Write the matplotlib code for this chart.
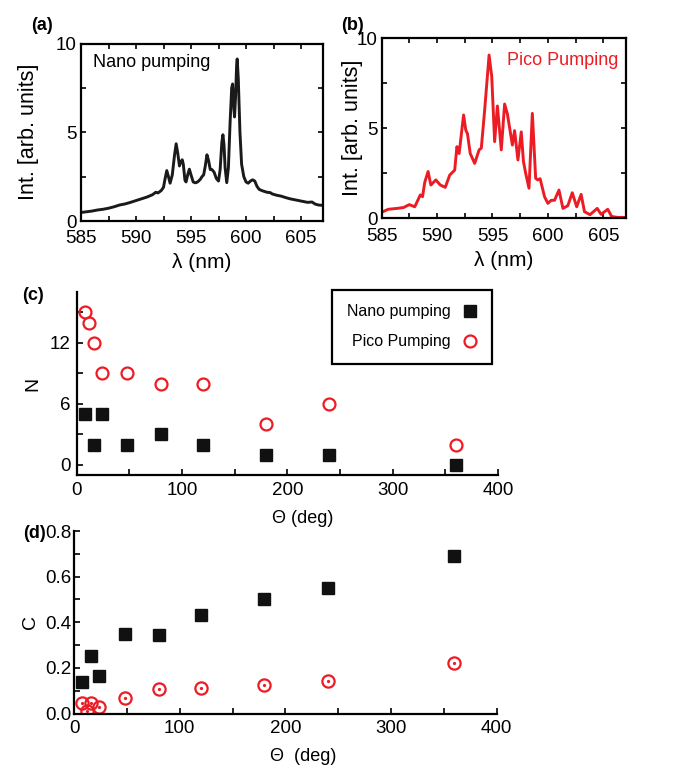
import matplotlib
matplotlib.use("Agg")
import matplotlib.pyplot as plt
from matplotlib import font_manager
from matplotlib.ticker import MultipleLocator, FormatStrFormatter

# ---------------- data ----------------
# (a) emission spectrum under nanosecond pumping
nano_wl = [585.0, 585.5, 586.0, 586.5, 587.0, 587.5, 588.0, 588.5, 589.0, 589.5,
           590.0, 590.5, 591.0, 591.5, 591.8, 592.0, 592.3, 592.5, 592.65, 592.8,
           592.95, 593.1, 593.3, 593.5, 593.65, 593.8, 593.95, 594.05, 594.2, 594.3,
           594.45, 594.55, 594.7, 594.85, 595.0, 595.2, 595.4, 595.6, 595.85, 596.0,
           596.15, 596.3, 596.45, 596.6, 596.75, 596.9, 597.1, 597.3, 597.5, 597.65,
           597.8, 597.9, 598.0, 598.1, 598.25, 598.4, 598.55, 598.7, 598.78, 598.9,
           598.96, 599.05, 599.15, 599.2, 599.3, 599.45, 599.6, 599.8, 600.0, 600.2,
           600.4, 600.6, 600.8, 601.0, 601.2, 601.5, 601.9, 602.2, 602.4, 602.8,
           603.2, 603.6, 604.0, 604.4, 604.8, 605.2, 605.6, 606.0, 606.3, 606.6, 607.0]
nano_int = [0.48, 0.52, 0.56, 0.62, 0.66, 0.72, 0.80, 0.90, 0.96, 1.05,
            1.15, 1.25, 1.35, 1.48, 1.62, 1.58, 1.72, 1.90, 2.40, 2.84,
            2.50, 2.13, 2.60, 3.70, 4.35, 3.80, 3.10, 3.30, 3.45, 3.20,
            2.30, 2.20, 2.60, 2.92, 2.60, 2.20, 2.15, 2.20, 2.35, 2.50,
            2.60, 3.10, 3.73, 3.40, 2.90, 2.90, 2.75, 2.40, 2.25, 2.90,
            4.40, 4.86, 4.30, 3.00, 2.16, 3.00, 5.50, 7.50, 7.72, 6.30,
            5.86, 7.00, 8.80, 9.13, 8.00, 5.00, 3.20, 2.50, 2.20, 2.13,
            2.25, 2.32, 2.25, 1.95, 1.78, 1.70, 1.62, 1.60, 1.52, 1.45,
            1.40, 1.32, 1.25, 1.20, 1.15, 1.10, 1.05, 1.07, 0.95, 0.90, 0.88]

# (b) emission spectrum under picosecond pumping
pico_wl = [585.0, 585.6, 586.4, 587.0, 587.5, 588.0, 588.5, 588.7, 588.9, 589.2,
           589.45, 589.9, 590.3, 590.75, 591.15, 591.6, 591.8, 592.0, 592.4, 592.6,
           592.75, 593.0, 593.4, 593.8, 594.0, 594.3, 594.7, 594.94, 595.2, 595.45,
           595.8, 596.1, 596.35, 596.8, 597.0, 597.3, 597.6, 597.8, 598.0, 598.3,
           598.6, 598.9, 599.1, 599.3, 599.7, 600.0, 600.3, 600.6, 601.0, 601.36,
           601.8, 602.2, 602.6, 603.0, 603.3, 603.8, 604.45, 604.8, 605.4, 605.75,
           606.3, 607.0]
pico_int = [0.33, 0.50, 0.55, 0.60, 0.76, 0.64, 1.30, 1.20, 2.00, 2.60,
            1.85, 2.13, 1.85, 1.72, 2.40, 2.68, 3.98, 3.60, 5.74, 4.90,
            4.70, 3.60, 3.05, 3.80, 3.90, 6.00, 9.07, 7.87, 4.26, 6.24,
            3.80, 6.35, 5.80, 4.07, 4.87, 3.24, 4.80, 3.15, 2.50, 1.67,
            5.83, 2.22, 2.13, 2.20, 1.20, 0.83, 1.00, 1.00, 1.57, 0.55,
            0.70, 1.42, 0.64, 1.33, 0.37, 0.20, 0.55, 0.22, 0.50, 0.10,
            0.05, 0.05]

# (c) number of lasing modes N and (d) correlation C versus angle
theta_nano = [8, 16, 24, 48, 80, 120, 180, 240, 360]
n_nano = [5, 2, 5, 2, 3, 2, 1, 1, 0]
c_nano = [0.137, 0.254, 0.165, 0.348, 0.345, 0.433, 0.503, 0.550, 0.692]

theta_pico = [8, 12, 16, 24, 48, 80, 120, 180, 240, 360]
n_pico = [15, 14, 12, 9, 9, 8, 8, 4, 6, 2]
c_pico = [0.045, 0.012, 0.045, 0.027, 0.070, 0.108, 0.113, 0.125, 0.143, 0.223]

# ---------------- style ----------------
installed = {f.name for f in font_manager.fontManager.ttflist}
BASE = "Liberation Sans" if "Liberation Sans" in installed else "DejaVu Sans"
HAS_NARROW = "Liberation Sans Narrow" in installed
NARROW = "Liberation Sans Narrow" if HAS_NARROW else BASE
plt.rcParams["font.family"] = [BASE, "DejaVu Sans"]

RED = "#ec1c24"
W, H = 674, 769
fig = plt.figure(figsize=(W / 100, H / 100), dpi=100)


def box(l, t, r, b):
    return [l / W, 1 - b / H, (r - l) / W, (b - t) / H]


def style_spectrum(ax, xpad, ylabelpad):
    ax.set_xlim(585, 607)
    ax.set_ylim(0, 10)
    ax.xaxis.set_major_locator(MultipleLocator(5))
    ax.xaxis.set_minor_locator(MultipleLocator(2.5))
    ax.yaxis.set_major_locator(MultipleLocator(5))
    ax.yaxis.set_minor_locator(MultipleLocator(2.5))
    ax.tick_params(which="both", direction="in", top=True, right=True,
                   length=3.5, width=1.2, labelsize=13.5)
    ax.tick_params(axis="x", pad=xpad)
    ax.tick_params(axis="y", pad=3)
    for s in ax.spines.values():
        s.set_linewidth(1.6)
    ax.set_xlabel("λ (nm)", fontsize=15, labelpad=4)
    ax.set_ylabel("Int. [arb. units]", fontsize=15.5, labelpad=ylabelpad)


# (a)
ax_a = fig.add_axes(box(81, 43.5, 323, 221))
ax_a.plot(nano_wl, nano_int, color="#1a1a1a", lw=2.1, solid_joinstyle="round")
style_spectrum(ax_a, 6.5, 12)
ax_a.text(0.05, 0.895, "Nano pumping", transform=ax_a.transAxes, fontsize=13,
          ha="left", va="center")

# (b)
ax_b = fig.add_axes(box(381.5, 38.3, 625.5, 218.3))
ax_b.plot(pico_wl, pico_int, color=RED, lw=2.1, solid_joinstyle="round")
style_spectrum(ax_b, 7, -4.5)
ax_b.text(0.97, 0.875, "Pico Pumping", transform=ax_b.transAxes, fontsize=13,
          ha="right", va="center", color=RED)


def style_scatter(ax, ypad, xlabel, label_xy):
    ax.spines["top"].set_visible(False)
    ax.spines["right"].set_visible(False)
    for s in ("left", "bottom"):
        ax.spines[s].set_linewidth(1.6)
    ax.set_xlim(0, 400)
    ax.xaxis.set_major_locator(MultipleLocator(100))
    ax.xaxis.set_minor_locator(MultipleLocator(50))
    ax.tick_params(which="both", direction="in", length=4.5, width=1.2,
                   labelsize=13.5)
    ax.tick_params(axis="x", pad=5)
    ax.tick_params(axis="y", pad=ypad)
    for lab in ax.get_xticklabels() + ax.get_yticklabels():
        lab.set_family([NARROW, "DejaVu Sans"])
    ax.set_xlabel(xlabel, fontsize=13)
    ax.xaxis.set_label_coords(*label_xy)
    ax.xaxis.label.set_verticalalignment("center")


# (c)
ax_c = fig.add_axes(box(76.7, 292, 498, 475))
ax_c.plot(theta_nano, n_nano, ls="none", marker="s", ms=8.2, color="#111111",
          label="Nano pumping")
ax_c.plot(theta_pico, n_pico, ls="none", marker="o", ms=8.6, mfc="none",
          mec=RED, mew=1.6, label="Pico Pumping")
ax_c.set_ylim(-1, 17)
ax_c.yaxis.set_major_locator(MultipleLocator(6))
ax_c.yaxis.set_minor_locator(MultipleLocator(3))
style_scatter(ax_c, 4.5, "Θ (deg)", (0.537, -0.235))
ax_c.set_ylabel("N", fontsize=14, labelpad=6)
leg_size = 13 if HAS_NARROW else 11.5
leg = ax_c.legend(loc="upper right", bbox_to_anchor=(0.986, 1.012),
                  markerfirst=False, fancybox=False,
                  prop={"family": [NARROW, "DejaVu Sans"], "size": leg_size},
                  borderpad=0.9, labelspacing=0.95, handlelength=1.0,
                  handletextpad=0.7, borderaxespad=0, framealpha=1)
leg.get_frame().set_edgecolor("black")
leg.get_frame().set_linewidth(1.6)

# (d)
ax_d = fig.add_axes(box(74, 531, 496.7, 713.5))
ax_d.plot(theta_nano, c_nano, ls="none", marker="s", ms=8.6, color="#111111")
ax_d.plot(theta_pico, c_pico, ls="none", marker="o", ms=8.8, mfc="none",
          mec=RED, mew=1.6)
ax_d.plot(theta_pico, c_pico, ls="none", marker="o", ms=1.3, color=RED)
ax_d.set_ylim(0, 0.8)
ax_d.yaxis.set_major_locator(MultipleLocator(0.2))
ax_d.yaxis.set_minor_locator(MultipleLocator(0.1))
ax_d.yaxis.set_major_formatter(FormatStrFormatter("%.1f"))
style_scatter(ax_d, 2, "Θ  (deg)", (0.542, -0.238))
ax_d.set_ylabel("C", fontsize=14, labelpad=4.5)

# panel letters
for letter, x, y in (("(a)", 42, 25), ("(b)", 352, 25), ("(c)", 33, 296), ("(d)", 35, 533)):
    fig.text(x / W, 1 - y / H, letter, fontsize=13, fontweight="bold",
             family=[NARROW, "DejaVu Sans"], ha="center", va="center")

fig.savefig("out.png", dpi=100)
